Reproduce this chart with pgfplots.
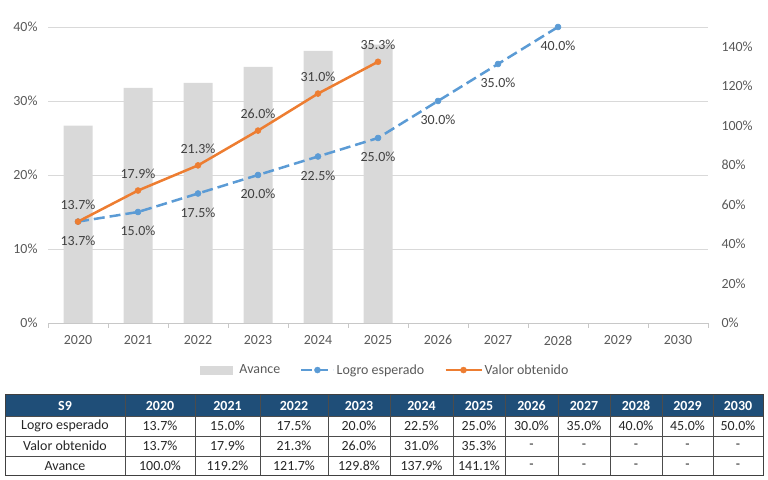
\documentclass[border=0pt]{standalone}
\usepackage{fontspec}
\setmainfont{Carlito}
\usepackage{pgfplots}
\pgfplotsset{compat=1.18}
\definecolor{bargray}{HTML}{D9D9D9}
\definecolor{gridgray}{HTML}{D9D9D9}
\definecolor{axisgray}{HTML}{C8C8C8}
\definecolor{labelgray}{HTML}{595959}
\definecolor{datagray}{HTML}{404040}
\definecolor{lblue}{HTML}{5B9BD5}
\definecolor{lorange}{HTML}{ED7D31}
\definecolor{hdrblue}{HTML}{1F4E78}
\pgfplotsset{/pgf/number format/assume math mode=true,
  leglineA/.style={legend image code/.code={\draw[mark repeat=2,mark phase=2,##1] plot coordinates {(0bp,0bp) (16bp,0bp) (32bp,0bp)};}},
  leglineB/.style={legend image code/.code={\draw[mark repeat=2,mark phase=2,##1] plot coordinates {(0bp,0bp) (18bp,0bp) (36bp,0bp)};}},
  legbar/.style={legend image code/.code={\fill[bargray] (0bp,-4bp) rectangle (32bp,4bp); \path (37bp,0bp);}},
}
\newcommand\fs{\fontsize{14}{16.5}\selectfont}
\begin{document}
\begin{tikzpicture}[font=\fs]
\path[use as bounding box] (0,0) rectangle (768bp,480bp);

% Bars on the right axis
\begin{axis}[
  at={(48bp,157bp)}, anchor=south west, scale only axis,
  width=660bp, height=296bp,
  xmin=2019.5, xmax=2030.5, ymin=0, ymax=150,
  hide x axis, axis y line*=right, y axis line style={draw=none},
  ytick={0,20,...,140}, yticklabel={\pgfmathprintnumber{\tick}\%},
  major tick length=0pt, major tick style={draw=none},
  yticklabel style={text=labelgray, xshift=10bp},
]
\addplot[ybar, bar width=29bp, fill=bargray, draw=none] coordinates {
  (2020,100.0) (2021,119.2) (2022,121.7) (2023,129.8) (2024,137.9) (2025,141.1)};
\end{axis}

% Lines on the left axis
\begin{axis}[
  at={(48bp,157bp)}, anchor=south west, scale only axis,
  width=660bp, height=296bp,
  xmin=2019.5, xmax=2030.5, ymin=0, ymax=40, clip=false,
  axis x line*=bottom, axis y line*=left,
  x axis line style={draw=axisgray, line width=0.75bp, -},
  y axis line style={draw=none},
  xtick={2020,2021,2022,2023,2024,2025,2026,2027,2028,2029,2030},
  xticklabels={2020,2021,2022,2023,2024,2025,2026,2027,2028,2029,2030},
  major tick length=0pt, major tick style={draw=none},
  extra x ticks={2019.5,2020.5,2021.5,2022.5,2023.5,2024.5,2025.5,2026.5,2027.5,2028.5,2029.5,2030.5},
  extra x tick labels={},
  extra x tick style={major tick length=5bp, tick align=outside,
     major tick style={draw=axisgray, line width=0.75bp}},
  ytick={0,10,20,30,40}, yticklabel={\pgfmathprintnumber{\tick}\%},
  ymajorgrids, grid style={draw=gridgray, line width=0.75bp},
  yticklabel style={text=labelgray, xshift=-7bp},
  xticklabel style={text=labelgray, yshift=-9bp},
  legend columns=3,
  legend style={at={(0.511,-0.159)}, anchor=center, draw=none, fill=none,
     text=labelgray, font=\fs,
     /tikz/every even column/.append style={column sep=18bp}},
]
\addlegendimage{legbar}
\addlegendentry{Avance}

\addplot[lblue, line width=2.5bp, dash pattern=on 11bp off 5bp,
   mark=*, mark size=3bp, mark options={solid, fill=lblue, draw=lblue, line width=0.5bp},
   leglineA,
   nodes near coords={\pgfmathprintnumber[fixed,fixed zerofill,precision=1]{\pgfplotspointmeta}\%},
   every node near coord/.append style={anchor=center, yshift=-19bp, text=datagray, font=\fs}]
 coordinates {(2020,13.7) (2021,15.0) (2022,17.5) (2023,20.0) (2024,22.5) (2025,25.0) (2026,30.0) (2027,35.0) (2028,40.0)};
\addlegendentry{Logro esperado}

\addplot[lorange, line width=2.5bp,
   mark=*, mark size=3bp, mark options={solid, fill=lorange, draw=lorange, line width=0.5bp},
   leglineB,
   nodes near coords={\pgfmathprintnumber[fixed,fixed zerofill,precision=1]{\pgfplotspointmeta}\%},
   every node near coord/.append style={anchor=center, yshift=16.5bp, text=datagray, font=\fs}]
 coordinates {(2020,13.7) (2021,17.9) (2022,21.3) (2023,26.0) (2024,31.0) (2025,35.3)};
\addlegendentry{Valor obtenido}
\end{axis}

% Data table
\begin{scope}[x=1bp, y=-1bp, yshift=480bp]
  \fill[hdrblue] (5,395) rectangle (763,416);
  \foreach \y in {416,436,456} \draw[black!70, line width=0.7bp] (5,\y) -- (763,\y);
  \foreach \x in {125,195,260,328,390,453,505,558,610,662,713}
     \draw[black!70, line width=0.7bp] (\x,395) -- (\x,476);
  \draw[black!75, line width=1bp] (5,395) rectangle (763,476);
  \foreach \cx/\a/\b/\c/\d in {
     65/S9/Logro esperado/Valor obtenido/Avance,
     160/2020/13.7\%/13.7\%/100.0\%,
     227.5/2021/15.0\%/17.9\%/119.2\%,
     294/2022/17.5\%/21.3\%/121.7\%,
     359/2023/20.0\%/26.0\%/129.8\%,
     421.5/2024/22.5\%/31.0\%/137.9\%,
     479/2025/25.0\%/35.3\%/141.1\%,
     531.5/2026/30.0\%/-/-,
     584/2027/35.0\%/-/-,
     636/2028/40.0\%/-/-,
     687.5/2029/45.0\%/-/-,
     738/2030/50.0\%/-/-}{
     \node[text=white, font=\fs\bfseries] at (\cx,405.5) {\a};
     \node[text=black!85] at (\cx,426) {\b};
     \node[text=black!85] at (\cx,446) {\c};
     \node[text=black!85] at (\cx,466) {\d};
  }
\end{scope}
\end{tikzpicture}
\end{document}
